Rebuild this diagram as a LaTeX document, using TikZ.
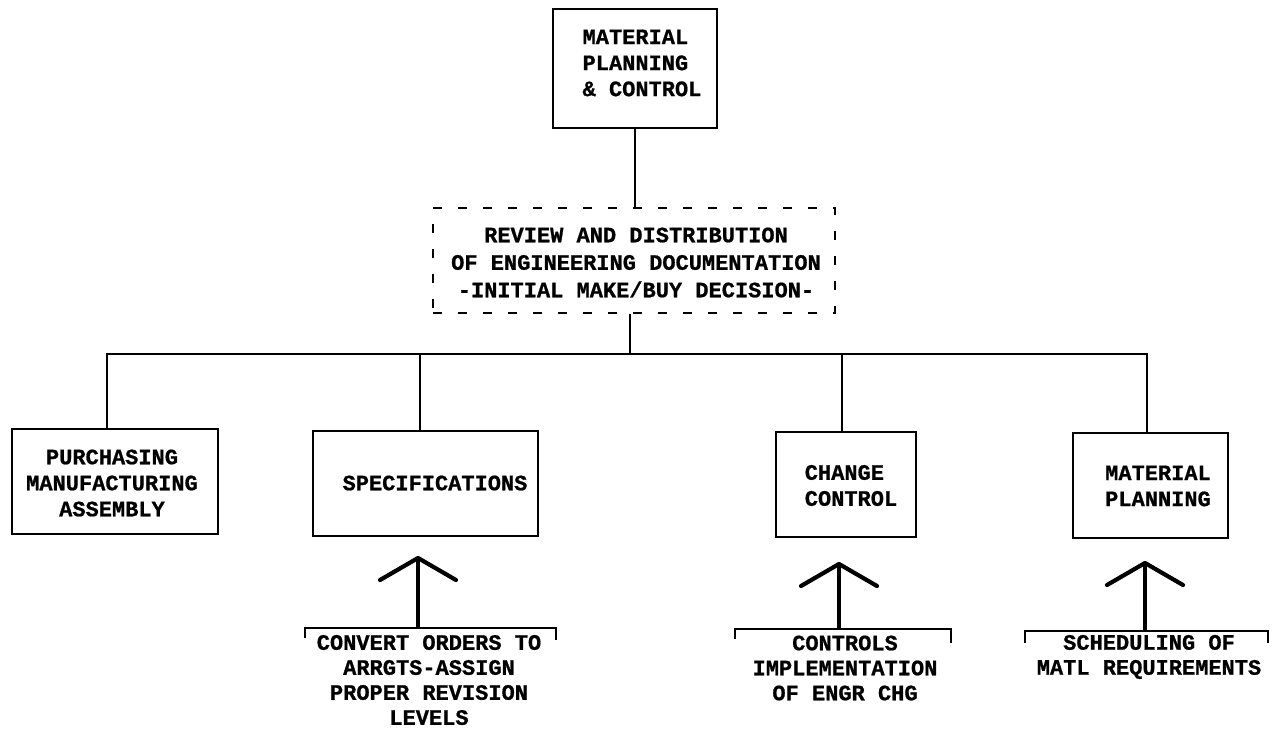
\documentclass[tikz,border=0pt]{standalone}
\usepackage{fontspec}
\newfontfamily\typer{Liberation Mono}[BoldFeatures={FakeBold=0.8}]
\usetikzlibrary{arrows.meta}
\begin{document}
\begin{tikzpicture}[x=1pt,y=-1pt,
  frame/.style={draw, line width=1.8pt, inner sep=0pt},
  txt/.style={font=\typer\bfseries\fontsize{22}{26}\selectfont, inner sep=0pt},
  notetxt/.style={txt, align=center, font=\typer\bfseries\fontsize{22}{25}\selectfont},
  link/.style={line width=1.8pt},
  bigarrow/.style={line width=4.2pt, -{Straight Barb[length=22pt,width=76pt,round]}},
  bracket/.style={line width=1.6pt}
]
\fill[white] (0,0) rectangle (1278,734);
\useasboundingbox (0,0) rectangle (1278,734);

% top box
\node[frame, minimum width=164pt, minimum height=119pt] (mpc) at (635,68.5) {};
\node[txt, align=left] (mpcl) at (642,63) {MATERIAL\\PLANNING\\\& CONTROL};

% dashed review box
\node[draw, dash pattern=on 9pt off 16pt, line width=1.8pt, inner sep=0pt,
      minimum width=402pt, minimum height=105pt] (rev) at (634,260.5) {};
\node[txt, align=center, font=\typer\bfseries\fontsize{22}{27.5}\selectfont] (revl) at (636,262.5)
  {REVIEW AND DISTRIBUTION\\OF ENGINEERING DOCUMENTATION\\-INITIAL MAKE/BUY DECISION-};

% lower row of boxes
\node[frame, minimum width=206pt, minimum height=105pt] (pma) at (115,481.5) {};
\node[txt, align=center] (pmal) at (112,483) {PURCHASING\\MANUFACTURING\\ASSEMBLY};

\node[frame, minimum width=225pt, minimum height=105pt] (spec) at (425.5,483.5) {};
\node[txt] (specl) at (435,483) {SPECIFICATIONS};

\node[frame, minimum width=140pt, minimum height=105pt] (chg) at (846,484.5) {};
\node[txt, align=left] (chgl) at (851,485.5) {CHANGE\\CONTROL};

\node[frame, minimum width=155pt, minimum height=105pt] (mpl) at (1150.5,485.5) {};
\node[txt, align=center] (mpll) at (1158,486) {MATERIAL\\PLANNING};

% tree connectors
\draw[link] (mpc.south) -- (mpc.south |- rev.north);
\draw[link] ([xshift=-4pt]rev.south) -- ++(0,40) coordinate (hub);
\draw[link] ([xshift=-8pt]pma.north) |- (hub);
\draw[link] (hub) -| ([xshift=-3.5pt]mpl.north);
\draw[link] ([xshift=-5.5pt]spec.north) -- ([xshift=-5.5pt]spec.north |- hub);
\draw[link] ([xshift=-4pt]chg.north) -- ([xshift=-4pt]chg.north |- hub);

% notes under the boxes
\node[notetxt] (specn) at (429,680)
  {CONVERT ORDERS TO\\ARRGTS-ASSIGN\\PROPER REVISION\\LEVELS};
\node[notetxt] (chgn) at (845,668)
  {CONTROLS\\IMPLEMENTATION\\OF ENGR CHG};
\node[notetxt] (mpln) at (1149,657)
  {SCHEDULING OF\\MATL REQUIREMENTS};

% brackets over the notes
\coordinate (specbl) at (305,628);  \coordinate (specbr) at (556,628);
\coordinate (chgbl) at (735,629);   \coordinate (chgbr) at (951,629);
\coordinate (mplbl) at (1025,631);  \coordinate (mplbr) at (1268,631);
\draw[bracket] ([yshift=-10pt]specbl) -- (specbl) -- (specbr) -- ([yshift=-12pt]specbr);
\draw[bracket] ([yshift=-10pt]chgbl) -- (chgbl) -- (chgbr) -- ([yshift=-14pt]chgbr);
\draw[bracket] ([yshift=-12pt]mplbl) -- (mplbl) -- (mplbr) -- ([yshift=-12pt]mplbr);

% arrows from notes up to boxes
\coordinate (speca) at (418,628);
\coordinate (chga) at (839,629);
\coordinate (mpla) at (1145,631);
\draw[bigarrow] (speca) -- ([yshift=-19pt]speca |- spec.south);
\draw[bigarrow] (chga) -- ([yshift=-24pt]chga |- chg.south);
\draw[bigarrow] (mpla) -- ([yshift=-22pt]mpla |- mpl.south);
\end{tikzpicture}
\end{document}
